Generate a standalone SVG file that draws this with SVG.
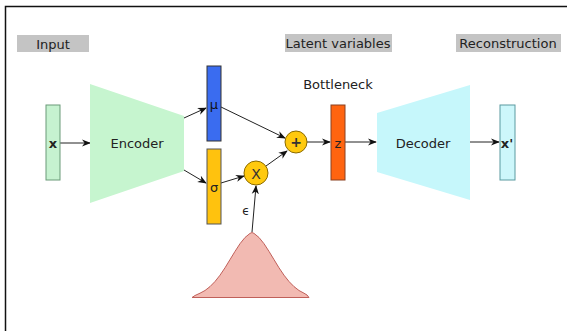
<svg xmlns="http://www.w3.org/2000/svg" width="567" height="331" viewBox="0 0 567 331">
  <defs>
    <marker id="arrow" viewBox="0 0 10 10" refX="9" refY="5" markerWidth="9" markerHeight="9" orient="auto" markerUnits="userSpaceOnUse">
      <path d="M0,1 L10,5 L0,9 L3,5 Z" fill="#111"/>
    </marker>
    <style>
      text { font-family: "DejaVu Sans", Verdana, sans-serif; font-size: 13px; fill: #222; text-anchor: middle; dominant-baseline: central; }
      .tag { fill: #c4c4c4; }
      .conn { stroke: #222; stroke-width: 1; fill: none; marker-end: url(#arrow); }
      .op { fill: #ffc90e; stroke: #8a6a00; stroke-width: 1; }
      .opt { font-size: 14px; fill: #333; }
    </style>
  </defs>
  <rect width="567" height="331" fill="#fff"/>
  <!-- frame -->
  <path d="M5.5,331 V6.5 H567" fill="none" stroke="#111" stroke-width="1.5"/>

  <!-- section labels -->
  <g id="label-input"><rect class="tag" x="17" y="35" width="72" height="17"/><text x="53" y="44">Input</text></g>
  <g id="label-latent"><rect class="tag" x="285" y="34" width="107" height="18"/><text x="338" y="43">Latent variables</text></g>
  <g id="label-recon"><rect class="tag" x="456" y="34" width="105" height="18"/><text x="508" y="43">Reconstruction</text></g>
  <g id="label-bottleneck"><text x="338" y="84">Bottleneck</text></g>

  <!-- connectors -->
  <g id="connectors">
    <line class="conn" x1="60" y1="143" x2="90" y2="143"/>
    <line class="conn" x1="184" y1="118" x2="206" y2="108"/>
    <line class="conn" x1="184" y1="170" x2="206" y2="183"/>
    <line class="conn" x1="221" y1="107" x2="285" y2="138"/>
    <line class="conn" x1="221" y1="183" x2="244" y2="176"/>
    <line class="conn" x1="266" y1="166" x2="287" y2="151"/>
    <line class="conn" x1="252" y1="232" x2="256" y2="186"/>
    <line class="conn" x1="307" y1="142" x2="330" y2="142"/>
    <line class="conn" x1="345" y1="142" x2="376" y2="142"/>
    <line class="conn" x1="470" y1="142" x2="499" y2="142"/>
  </g>

  <g id="node-x">
    <rect x="46" y="105" width="14" height="75" fill="#c6f2d0" stroke="#6a9a78" stroke-width="1"/>
    <text x="53" y="143" style="font-weight:bold">x</text>
  </g>
  <g id="node-encoder">
    <polygon points="90,84 184,116 184,171 90,203" fill="#c6f5cf"/>
    <text x="137" y="143">Encoder</text>
  </g>
  <g id="node-mu">
    <rect x="207" y="66" width="14" height="75" fill="#3a6cf0" stroke="#333" stroke-width="1"/>
    <text x="214" y="104" style="fill:#111">μ</text>
  </g>
  <g id="node-sigma">
    <rect x="207" y="149" width="14" height="75" fill="#ffc20e" stroke="#555" stroke-width="1"/>
    <text x="214" y="187">σ</text>
  </g>
  <g id="node-mul">
    <circle class="op" cx="256" cy="173" r="12"/>
    <text class="opt" x="256" y="174">X</text>
  </g>
  <g id="node-add">
    <circle class="op" cx="296" cy="142" r="11"/>
    <text class="opt" x="296" y="142" style="font-weight:bold">+</text>
  </g>
  <g id="node-z">
    <rect x="331" y="105" width="14" height="75" fill="#ff6410" stroke="#8a4020" stroke-width="1"/>
    <text x="338" y="143">z</text>
  </g>
  <g id="node-decoder">
    <polygon points="377,113 470,85 470,200 377,172" fill="#c6f7fb"/>
    <text x="423" y="143">Decoder</text>
  </g>
  <g id="node-xprime">
    <rect x="500" y="105" width="15" height="75" fill="#cdf7fb" stroke="#5a9aa0" stroke-width="1"/>
    <text x="507" y="143" style="font-weight:bold">x'</text>
  </g>
  <g id="node-noise">
    <!-- bell curve, sigma ~24px -->
    <path d="M192,297.5 L195,295.5 200,293.2 205,290.5 210,286.6 215,281.5 220,275.2 225,267.8 230,259.6 235,251.4 240,243.7 245,237.5 250,233.4 252,232.5 254,233.4 259,237.5 264,243.7 269,251.4 274,259.6 279,267.8 284,275.2 289,281.5 294,286.6 299,290.5 304,293.2 307,295 309,297.5 Z" fill="#f2bab2" stroke="#c0605a" stroke-width="1" stroke-linejoin="round"/>
    <text x="246" y="211" style="font-size:12px">ϵ</text>
  </g>
</svg>
